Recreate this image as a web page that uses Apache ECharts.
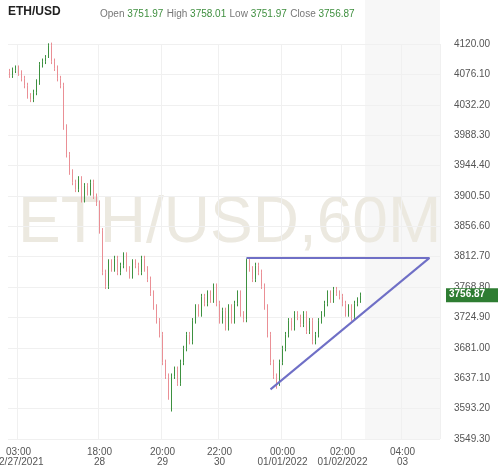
<!DOCTYPE html>
<html><head><meta charset="utf-8">
<script src="https://cdn.jsdelivr.net/npm/echarts@6/dist/echarts.min.js"></script>
<style>body{margin:0;background:#fff}#c{width:498px;height:473px}</style>
</head><body><div id="c"></div>
<script>
// hourly closes
var closes = [4075,4082,4085,4078,4070,4060,4045,4040,4050,4065,4090,4095,4100,4118,4095,4085,4070,4060,4000,3960,3935,3920,
  3910,3925,3895,3915,3905,3920,3900,3890,3850,3790,3770,
  3805,3795,3810,3790,3800,3815,3795,3785,3805,3800,3790,3810,3795,3780,
  3760,3740,3720,3700,3660,3640,3610,3640,3650,3630,3660,3680,3700,3690,
  3720,3740,3730,3755,3745,3760,3750,3770,3745,3720,3735,3710,3740,3720,
  3745,3760,3730,3722,3808,3795,3780,3800,3790,3770,3740,3700,3660,3640,3630,
  3660,3680,3700,3720,3710,3730,3725,3715,3730,3705,3720,3690,3700,3720,3730,3745,3760,3750,3765,
  3760,3755,3745,3730,3740,3725,3745,3750,3756.87];
var firstOpen = 4080;
var lowMarks = {7: 4036, 13: 4112, 54: 3589, 89: 3622, 101: 3686, 114: 3720};
var highMarks = {13: 4121, 79: 3810};
var padBars = 26;
var xTicks = {3: '03:00\n12/27/2021', 30: '18:00\n28', 51: '20:00\n29', 70: '22:00\n30', 91: '00:00\n01/01/2022', 111: '02:00\n01/02/2022', 131: '04:00\n03'};
var yMin = 3549.3, yStep = 43.9, yMax = 4120;
var trendTop = [[79, 3811], [140, 3811]];
var trendLow = [[87, 3621], [140, 3811]];

var cats = [], ohlc = [];
var prev = firstOpen;
for (var i = 0; i < closes.length + padBars; i++) {
  cats.push(String(i));
  if (i < closes.length) {
    var o = prev, c = closes[i];
    var hi = highMarks[i] !== undefined ? highMarks[i] : Math.max(o, c) + 4;
    var lo = lowMarks[i] !== undefined ? lowMarks[i] : Math.min(o, c) - 4;
    ohlc.push([o - yMin, c - yMin, lo - yMin, hi - yMin]);
    prev = c;
  }
}
function pt(p) { return {coord: [String(p[0]), p[1] - yMin]}; }

var myChart = echarts.init(document.getElementById('c'));
var option = {
  animation: false,
  grid: {left: 8, right: 58, top: 44, bottom: 34, outerBoundsMode: 'none', containLabel: false},
  xAxis: {
    type: 'category', data: cats, boundaryGap: true,
    axisLine: {show: false}, axisTick: {show: false},
    axisLabel: {interval: function (i) { return xTicks[i] !== undefined; }, formatter: function (v) { return xTicks[v]; },
      color: '#555', fontSize: 10, lineHeight: 10, margin: 8, fontFamily: 'Liberation Sans'},
    splitLine: {show: true, interval: function (i) { return xTicks[i] !== undefined; }, lineStyle: {color: '#f0f0f0'}}
  },
  yAxis: {
    type: 'value', position: 'right', min: 0, max: yMax - yMin, interval: yStep,
    axisLine: {show: false}, axisTick: {show: false},
    axisLabel: {formatter: function (v) { return (v + yMin).toFixed(2); }, color: '#555', fontSize: 10, margin: 14, fontFamily: 'Liberation Sans'},
    splitLine: {lineStyle: {color: '#f0f0f0'}}
  },
  graphic: [
    {type: 'rect', shape: {x: 365, y: 0, width: 75, height: 440}, style: {fill: '#f7f7f7'}, z: -1},
    {type: 'text', left: 18, top: 192, style: {text: 'ETH/USD,60M', fontSize: 64, fill: '#ece9e0', fontFamily: 'Liberation Sans'}, z: 0},
    {type: 'text', left: 8, top: 6, style: {text: 'ETH/USD', fontSize: 12, fontWeight: 'bold', fill: '#222', fontFamily: 'Liberation Sans'}},
    {type: 'text', left: 100, top: 8, style: {rich: {g: {fill: '#777', fontSize: 10}, v: {fill: '#3f8f3f', fontSize: 10}},
      text: '{g|Open }{v|3751.97} {g|High }{v|3758.01} {g|Low }{v|3751.97} {g|Close }{v|3756.87}', fontFamily: 'Liberation Sans'}}
  ],
  series: [{
    type: 'candlestick', data: ohlc, barWidth: 1.4, z: 3,
    itemStyle: {color: '#3d9140', color0: '#ea8f95', borderColor: '#3d9140', borderColor0: '#ea8f95', borderWidth: 1},
    markLine: {symbol: 'none', silent: true, label: {show: false},
      lineStyle: {color: '#6f6fc6', width: 2, type: 'solid'},
      data: [[pt(trendTop[0]), pt(trendTop[1])], [pt(trendLow[0]), pt(trendLow[1])]]}
  }]
};
myChart.setOption(option);
var py = myChart.convertToPixel({yAxisIndex: 0}, 3756.87 - yMin);
myChart.setOption({graphic: option.graphic.concat([
  {type: 'rect', shape: {x: 446, y: py - 7, width: 60, height: 14}, style: {fill: '#2e7d32'}, z: 10},
  {type: 'text', left: 449, top: py - 6, style: {text: '3756.87', fill: '#fff', fontSize: 10, fontWeight: 'bold', fontFamily: 'Liberation Sans'}, z: 11}
])});
</script></body></html>
